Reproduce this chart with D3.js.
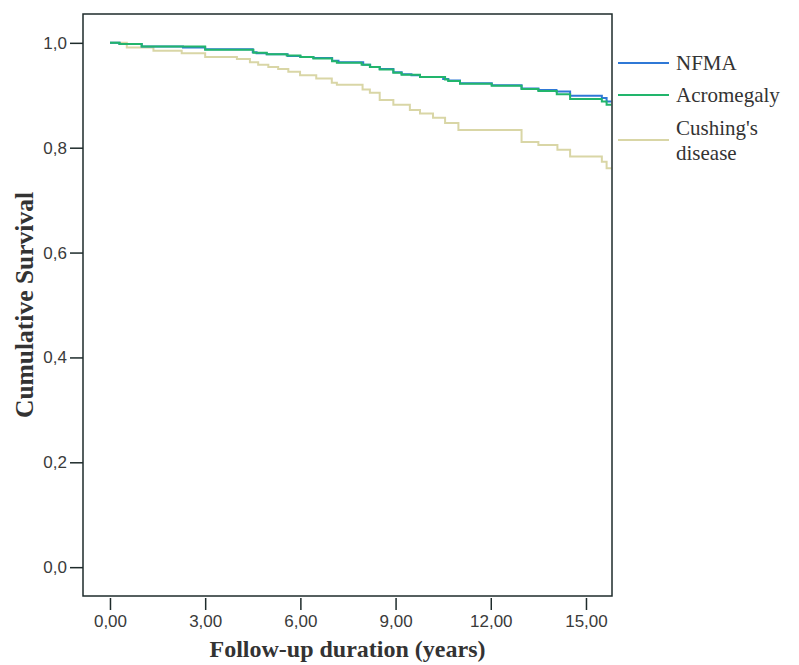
<!DOCTYPE html>
<html>
<head>
<meta charset="utf-8">
<script src="https://cdn.jsdelivr.net/npm/d3@7"></script>
<style>
  body { margin: 0; background: #fff; }
  svg { display: block; }
</style>
</head>
<body>
<svg width="799" height="665"></svg>
<script>
// data: [time (years), cumulative survival]
const seriesNames = ['NFMA', 'Acromegaly', "Cushing's disease"];
const nfma = [[0,1.0],[0.3,0.998],[1.0,0.993],[2.3,0.991],[3.0,0.988],[4.5,0.982],[4.62,0.980],[4.94,0.978],[5.6,0.975],[6.0,0.973],[6.41,0.971],[7.0,0.966],[7.2,0.963],[7.98,0.958],[8.2,0.954],[8.5,0.950],[8.93,0.944],[9.19,0.940],[9.5,0.938],[9.77,0.935],[10.5,0.931],[10.66,0.928],[11.03,0.923],[12.03,0.919],[12.97,0.913],[13.5,0.910],[14.07,0.907],[14.5,0.899],[15.5,0.895],[15.65,0.888]];
const acromegaly = [[0,1.0],[0.3,0.998],[1.0,0.993],[3.0,0.987],[4.52,0.981],[4.94,0.978],[5.57,0.976],[6.0,0.973],[6.41,0.970],[7.0,0.965],[7.15,0.962],[7.93,0.958],[8.19,0.954],[8.5,0.949],[8.93,0.943],[9.19,0.939],[9.77,0.935],[10.56,0.930],[10.66,0.927],[11.03,0.922],[12.03,0.918],[12.97,0.912],[13.5,0.908],[14.08,0.902],[14.5,0.893],[15.5,0.888],[15.65,0.882]];
const cushing = [[0,1.0],[0.53,0.991],[1.37,0.985],[2.26,0.980],[3.0,0.973],[4.0,0.969],[4.41,0.963],[4.67,0.958],[4.99,0.954],[5.3,0.950],[5.62,0.945],[5.99,0.938],[6.5,0.932],[6.99,0.924],[7.15,0.920],[7.96,0.911],[8.19,0.905],[8.5,0.891],[8.93,0.882],[9.45,0.872],[9.77,0.865],[10.18,0.857],[10.56,0.847],[10.98,0.834],[12.97,0.811],[13.5,0.805],[14.1,0.796],[14.5,0.783],[15.5,0.773],[15.65,0.761]];
const endTime = 15.8;
const xTicks = [0, 3, 6, 9, 12, 15];
const yTicks = [0, 0.2, 0.4, 0.6, 0.8, 1.0];
const colors = ['#2f78d6', '#22b56c', '#d9d6a6'];

const svg = d3.select('svg');
const frame = { left: 83, right: 612, top: 14, bottom: 596 };

const xScale = d3.scaleLinear()
    .domain([-0.85, 15.82])
    .range([frame.left, frame.right]);

const yScale = d3.scaleLinear()
    .domain([-0.055, 1.055])
    .range([frame.bottom, frame.top]);

const comma = f => v => f(v).replace('.', ',');

//* y axis
const yAxisG = svg.append('g')
    .attr('transform', `translate(${frame.left},0)`)
    .call(d3.axisLeft(yScale).tickValues(yTicks).tickFormat(comma(d3.format('.1f'))).tickSize(13).tickPadding(3));

//* x axis, sits a little below the frame
const xAxisG = svg.append('g')
    .attr('transform', `translate(0,${frame.bottom + 2})`)
    .call(d3.axisBottom(xScale).tickValues(xTicks).tickFormat(comma(d3.format('.2f'))).tickSize(12).tickPadding(5));

[yAxisG, xAxisG].forEach(g => {
    g.select('.domain').remove();
    g.selectAll('line').attr('stroke', '#1e2b2b').attr('stroke-width', 1.5);
    g.selectAll('text')
        .style('font-family', '"Liberation Sans", Arial, sans-serif')
        .style('font-size', '17px')
        .attr('fill', '#3a3a3a');
});

//* clip + curves
svg.append('clipPath').attr('id', 'plot')
    .append('rect')
    .attr('x', frame.left).attr('y', frame.top)
    .attr('width', frame.right - frame.left).attr('height', frame.bottom - frame.top);

const line = d3.line()
    .x(d => xScale(d[0]))
    .y(d => yScale(d[1]))
    .curve(d3.curveStepAfter);

const allSeries = [nfma, acromegaly, cushing];
// Cushing's first, then NFMA, Acromegaly on top
[2, 0, 1].forEach(i => {
    const s = allSeries[i];
    const pts = s.concat([[endTime, s[s.length - 1][1]]]);
    svg.append('path')
        .attr('clip-path', 'url(#plot)')
        .attr('d', line(pts))
        .attr('fill', 'none')
        .attr('stroke', colors[i])
        .attr('stroke-width', 2);
});

//* frame
svg.append('rect')
    .attr('x', frame.left).attr('y', frame.top)
    .attr('width', frame.right - frame.left).attr('height', frame.bottom - frame.top)
    .attr('fill', 'none')
    .attr('stroke', '#1e2b2b')
    .attr('stroke-width', 1.5);

//* axis titles
svg.append('text')
    .attr('x', (frame.left + frame.right) / 2)
    .attr('y', 657)
    .attr('text-anchor', 'middle')
    .style('font-family', '"Liberation Serif", "Times New Roman", serif')
    .style('font-weight', 'bold')
    .style('font-size', '24px')
    .attr('fill', '#333')
    .text('Follow-up duration (years)');

svg.append('text')
    .attr('transform', `translate(33,${(frame.top + frame.bottom) / 2}) rotate(-90)`)
    .attr('text-anchor', 'middle')
    .style('font-family', '"Liberation Serif", "Times New Roman", serif')
    .style('font-weight', 'bold')
    .style('font-size', '25.5px')
    .attr('fill', '#333')
    .text('Cumulative Survival');

//* legend
const legendRows = [
    { lines: ['NFMA'], y: 63 },
    { lines: ['Acromegaly'], y: 95 },
    { lines: ["Cushing's", 'disease'], y: 140 }
];
const legend = svg.append('g');
legendRows.forEach((r, i) => {
    legend.append('line')
        .attr('x1', 618).attr('x2', 669)
        .attr('y1', r.y).attr('y2', r.y)
        .attr('stroke', colors[i])
        .attr('stroke-width', 2);
    const t = legend.append('text')
        .attr('x', 676)
        .attr('y', r.y - (r.lines.length - 1) * 12.5)
        .style('font-family', '"Liberation Serif", "Times New Roman", serif')
        .style('font-size', '21px')
        .attr('fill', '#333');
    r.lines.forEach((l, j) => {
        t.append('tspan').attr('x', 676).attr('dy', j === 0 ? '0.35em' : 25).text(l);
    });
});
</script>
</body>
</html>
